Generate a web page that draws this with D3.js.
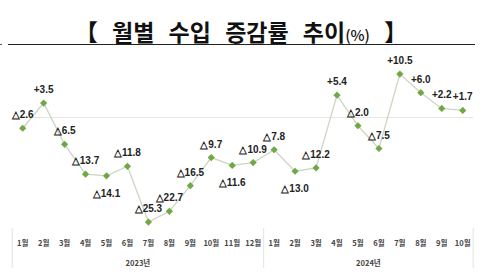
<!DOCTYPE html>
<html><head><meta charset="utf-8">
<script src="https://cdn.jsdelivr.net/npm/d3@7/dist/d3.min.js"></script>
<style>
html,body{margin:0;padding:0;background:#fff;}
svg{display:block;}
</style></head>
<body>
<svg id="c" width="500" height="278"></svg>
<script>
const titleText = "【 월별 수입 증감률 추이";
const titleUnit = "(%)";
const titleEnd = " 】";
const years = ["2023년", "2024년"];
const months2023 = ["1월","2월","3월","4월","5월","6월","7월","8월","9월","10월","11월","12월"];
const months2024 = ["1월","2월","3월","4월","5월","6월","7월","8월","9월","10월"];
const values2023 = [-2.6, 3.5, -6.5, -13.7, -14.1, -11.8, -25.3, -22.7, -16.5, -9.7, -11.6, -10.9];
const values2024 = [-7.8, -13.0, -12.2, 5.4, -2.0, -7.5, 10.5, 6.0, 2.2, 1.7];
const labelsBelow = ["2023-5월", "2023-11월", "2024-2월"];

const data = [];
months2023.forEach((m,i)=>data.push({key:"2023-"+m, year:years[0], month:m, v:values2023[i]}));
months2024.forEach((m,i)=>data.push({key:"2024-"+m, year:years[1], month:m, v:values2024[i]}));

const svg = d3.select("#c");
const x = d3.scaleBand().domain(data.map(d=>d.key)).range([12.2, 473.2]).paddingInner(0).paddingOuter(0);
const y = d3.scaleLinear().domain([-30, 15]).range([241.5, 55.5]);
const cx = d => x(d.key) + x.bandwidth()/2;

// title
const t = svg.append("text").attr("x", 241).attr("y", 41).attr("text-anchor","middle")
  .style("font-family","'Noto Sans CJK KR'").style("font-weight","700").style("font-size","23px")
  .style("word-spacing","9px").attr("fill","#111");
t.append("tspan").text(titleText).attr("xml:space","preserve");
t.append("tspan").text(titleUnit).style("font-size","15px").style("font-weight","500");
t.append("tspan").text(titleEnd).attr("xml:space","preserve");
svg.append("line").attr("x1",8).attr("x2",475).attr("y1",44.5).attr("y2",44.5).attr("stroke","#222").attr("stroke-width",1);
svg.append("line").attr("x1",0).attr("x2",2).attr("y1",44.5).attr("y2",44.5).attr("stroke","#666").attr("stroke-width",1);

// zero line
svg.append("line").attr("x1",12).attr("x2",473).attr("y1",y(0)).attr("y2",y(0)).attr("stroke","#e6e6e6").attr("stroke-width",1);

// separators
const sepX = [x(data[0].key), x(data[12].key), x(data[data.length-1].key)+x.bandwidth()];
svg.selectAll("line.sep").data(sepX).enter().append("line").attr("class","sep")
  .attr("x1",d=>d).attr("x2",d=>d).attr("y1",228).attr("y2",268).attr("stroke","#e3e3e3").attr("stroke-width",1);

// line
svg.append("path").datum(data).attr("d", d3.line().x(cx).y(d=>y(d.v)))
  .attr("fill","none").attr("stroke","#ccd5c2").attr("stroke-width",1.3);

// markers
svg.selectAll("path.m").data(data).enter().append("path").attr("class","m")
  .attr("d", d3.symbol().type(d3.symbolSquare).size(26))
  .attr("transform", d=>`translate(${cx(d)},${y(d.v)}) rotate(45)`)
  .attr("fill","#70a845");

// value labels
const fmt = v => (v < 0 ? "△" : "+") + Math.abs(v).toFixed(1);
svg.selectAll("text.v").data(data).enter().append("text").attr("class","v")
  .attr("x", cx)
  .attr("y", d => labelsBelow.includes(d.key) ? y(d.v)+21 : y(d.v)-10)
  .attr("text-anchor","middle")
  .style("font-family","'Liberation Sans', Arial, sans-serif").style("font-weight","700").style("font-size","10px")
  .attr("fill","#222").text(d=>fmt(d.v));

// month labels
svg.selectAll("text.mo").data(data).enter().append("text").attr("class","mo")
  .attr("x", cx).attr("y", 246).attr("text-anchor","middle")
  .style("font-family","'Noto Sans CJK KR'").style("font-weight","700").style("font-size","7.5px")
  .attr("fill","#444").text(d=>d.month);

// year labels
const yearCenters = years.map(yr => {
  const ds = data.filter(d=>d.year===yr);
  return {yr, xc:(x(ds[0].key) + x(ds[ds.length-1].key) + x.bandwidth())/2};
});
svg.selectAll("text.yr").data(yearCenters).enter().append("text").attr("class","yr")
  .attr("x", d=>d.xc).attr("y", 266).attr("text-anchor","middle")
  .style("font-family","'Noto Sans CJK KR'").style("font-weight","700").style("font-size","7.5px")
  .attr("fill","#444").text(d=>d.yr);
</script>
</body></html>
